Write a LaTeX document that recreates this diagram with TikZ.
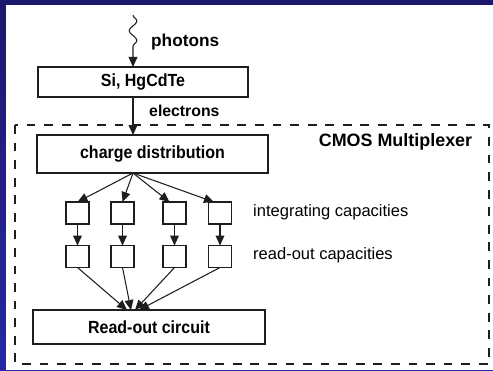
\documentclass[tikz,border=0pt]{standalone}
\usepackage{fontspec}
\setmainfont{Liberation Sans}
\newfontfamily\narrowfont[FakeStretch=0.91]{Liberation Sans}
\usetikzlibrary{arrows.meta,decorations.pathmorphing,calc}
\definecolor{navy}{RGB}{28,24,108}
\definecolor{slideblue}{RGB}{40,38,165}
\definecolor{ink}{RGB}{30,30,30}
\tikzset{
  box/.style={draw=ink,line width=0.6pt,inner sep=0pt,outer sep=0pt,font=\narrowfont\bfseries},
  capbox/.style={box,minimum width=0.46cm,minimum height=0.44cm},
  arrowline/.style={-{Triangle[length=5.7pt,width=5pt]},draw=ink,line width=0.6pt},
  mplxframe/.style={draw=ink,line width=1.4pt,dash pattern=on 5pt off 5pt}
}
\begin{document}
\begin{tikzpicture}[x=0.02cm,y=-0.02cm,font=\fontsize{9.4}{11}\selectfont]
\useasboundingbox (0,0) rectangle (493,370);
\shade[top color=navy,bottom color=slideblue] (0,0) rectangle (493,370);
\fill[white] (6,5) rectangle (493,370);

\draw[mplxframe] (15,125) rectangle (489,364);

\coordinate (axis) at (133,0);
\coordinate (ph) at (133,15);
\coordinate (merge) at (133,310);

\node[box,minimum width=4.2cm,minimum height=0.6cm] (si) at (143,82) {Si, HgCdTe};
\node[box,minimum width=4.62cm,minimum height=0.76cm] (charge) at (152.5,154) {charge distribution};
\node[box,minimum width=4.64cm,minimum height=0.68cm] (ro) at (149,327) {Read-out circuit};

\node[capbox] (i1) at (77.5,213) {};
\node[capbox] (i2) at (122.5,213) {};
\node[capbox] (i3) at (174.5,213) {};
\node[capbox] (i4) at (220,213) {};
\node[capbox] (r1) at (77.5,256.5) {};
\node[capbox] (r2) at (122.5,256.5) {};
\node[capbox] (r3) at (174.5,256.5) {};
\node[capbox] (r4) at (220,256.5) {};

\draw[arrowline,decorate,decoration={snake,amplitude=2.2pt,segment length=11pt,post length=9pt}]
  (ph) -- (si.north -| ph);
\draw[arrowline] (si.south -| axis) -- (charge.north -| axis);

\draw[arrowline] (charge.south -| axis) -- (i1.north);
\draw[arrowline] (charge.south -| axis) -- (i2.north);
\draw[arrowline] (charge.south -| axis) -- ([xshift=-0.1cm]i3.north);
\draw[arrowline] (charge.south -| axis) -- ([xshift=-0.12cm]i4.north);

\draw[arrowline] (i1) -- (r1);
\draw[arrowline] (i2) -- (r2);
\draw[arrowline] (i3) -- (r3);
\draw[arrowline] (i4) -- (r4);

\draw[arrowline] (r1.south) -- ($(merge)+(-6,0)$);
\draw[arrowline] (r2.south) -- ($(merge)+(-2,0)$);
\draw[arrowline] (r3.south) -- ($(merge)+(2,0)$);
\draw[arrowline] (r4.south) -- ($(merge)+(6,0)$);

\node[anchor=west,font=\bfseries\fontsize{9.8}{11}\selectfont] (phtext) at (145,42) {photons};
\node[anchor=west,font=\bfseries\fontsize{9}{11}\selectfont] (eltext) at (143,111) {electrons};
\node[font=\bfseries\fontsize{10.2}{12}\selectfont] (cmos) at (395.5,142) {CMOS Multiplexer};
\node[anchor=west] (inttext) at (247,212) {integrating capacities};
\node[anchor=west] (rotext) at (247,255) {read-out capacities};
\end{tikzpicture}
\end{document}
